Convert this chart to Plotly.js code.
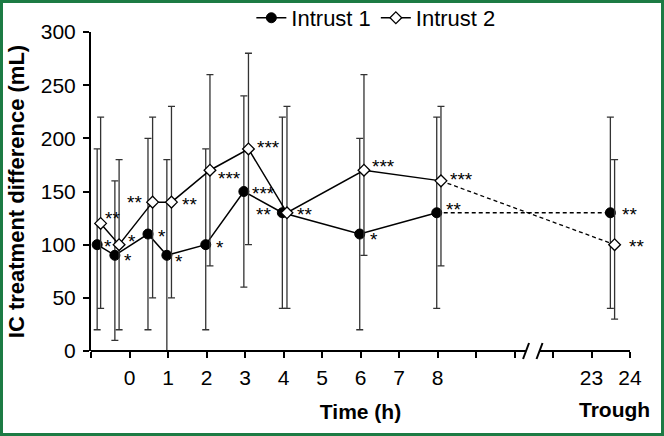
<!DOCTYPE html>
<html>
<head>
<meta charset="utf-8">
<script src="https://cdn.plot.ly/plotly-3.0.1.min.js"></script>
<style>
  body { margin: 0; background: #fff; }
  #wrap { position: relative; width: 664px; height: 436px; }
  #graph { position: absolute; left: 0; top: 0; width: 664px; height: 436px; }
  #frame { position: absolute; left: 0; top: 0; width: 664px; height: 436px;
           box-sizing: border-box; border: 3px solid #1c7b44; pointer-events: none; }
</style>
</head>
<body>
<div id="wrap">
  <div id="graph"></div>
  <div id="frame"></div>
</div>
<script>
// times in hours as placed on the chart, values in mL
var times1 = [-0.84, -0.38, 0.48, 0.97, 1.98, 2.97, 3.97, 5.98, 7.98, 23.49];
var ic1 = [100, 90, 110, 90, 100, 150, 130, 110, 130, 130];
var errUp1 = [90, 70, 90, 90, 90, 90, 90, 90, 90, 90];
var errDown1 = [80, 80, 90, 90, 80, 90, 90, 90, 90, 90];
var stars1 = ['*', '*', '*', '*', '*', '***', '**', '*', '**', '**'];

var times2 = [-0.75, -0.27, 0.6, 1.09, 2.09, 3.09, 4.09, 6.09, 8.09, 23.6];
var ic2 = [120, 100, 140, 140, 170, 190, 130, 170, 160, 100];
var errUp2 = [100, 80, 80, 90, 90, 90, 100, 90, 70, 80];
var errDown2 = [80, 80, 90, 90, 90, 90, 90, 80, 80, 70];
var stars2 = ['**', '*', '**', '**', '***', '***', '**', '***', '***', '**'];

var tickHours = [-1, 0, 1, 2, 3, 4, 5, 6, 7, 8, 9, 10, 22, 23, 24];
var tickLabels = ['', '0', '1', '2', '3', '4', '5', '6', '7', '8', '', '', '', '23', '24'];

// axis is broken between 10 h and 22 h
var breakAt = 10.5;
var breakSkip = 11;
function hourToPos(h) {
    return h <= breakAt ? h : h - breakSkip;
}

// where each star label sits relative to its marker (px): [dx, dy down]
var starOffs1 = [[5, 0], [7, 3], [8, 0], [6, 4], [8, 1], [6, 0], [-9, 0], [8, 3], [7, -5], [10, 0]];
var starOffs2 = [[2, -7], [7, -5], [-9, -2], [9, 0], [6, 6], [7, -3], [8, 0], [6, -6], [7, -3], [12, 0]];
var starRaise = 2;

var fontFam = '"Liberation Sans", Arial, sans-serif';
var barStyle = {color: '#333', thickness: 1.3, width: 3.5};

function buildSeries(name, times, vals, up, down, marker) {
    var pos = times.map(hourToPos);
    var n = pos.length;
    var main = {
        x: pos.slice(0, n - 1), y: vals.slice(0, n - 1),
        type: 'scatter', mode: 'lines+markers', name: name,
        line: {color: '#000', width: 1.5},
        marker: marker,
        error_y: Object.assign({type: 'data', symmetric: false,
            array: up.slice(0, n - 1), arrayminus: down.slice(0, n - 1)}, barStyle)
    };
    var dashed = {
        x: pos.slice(n - 2), y: vals.slice(n - 2),
        type: 'scatter', mode: 'lines', showlegend: false, hoverinfo: 'skip',
        line: {color: '#000', width: 1.3, dash: '4px,3px'}
    };
    var trough = {
        x: pos.slice(n - 1), y: vals.slice(n - 1),
        type: 'scatter', mode: 'markers', showlegend: false,
        marker: marker,
        error_y: Object.assign({type: 'data', symmetric: false,
            array: up.slice(n - 1), arrayminus: down.slice(n - 1)}, barStyle)
    };
    return [dashed, main, trough];
}

function starNotes(times, vals, stars, offs) {
    return stars.map(function (s, i) {
        return {
            x: hourToPos(times[i]), y: vals[i], text: s, showarrow: false,
            xanchor: offs[i][0] < 0 ? 'right' : 'left', yanchor: 'middle',
            xshift: offs[i][0], yshift: -offs[i][1] - starRaise,
            font: {family: fontFam, size: 19, color: '#000'}
        };
    });
}

var s1 = buildSeries('Intrust 1', times1, ic1, errUp1, errDown1,
    {symbol: 'circle', size: 10, color: '#000', line: {color: '#000', width: 1}});
var s2 = buildSeries('Intrust 2', times2, ic2, errUp2, errDown2,
    {symbol: 'diamond', size: 9, color: '#fff', line: {color: '#000', width: 1.3}});

var data = [s1[0], s2[0], s1[1], s1[2], s2[1], s2[2]];

var lastPos = hourToPos(24);
var gapL = 10.3, gapR = 10.65;
var axisLine = {color: '#000', width: 2};
var shapes = [
    {type: 'line', xref: 'x', yref: 'paper', x0: -1, x1: gapL, y0: 0, y1: 0, line: axisLine},
    {type: 'line', xref: 'x', yref: 'paper', x0: gapR, x1: lastPos, y0: 0, y1: 0, line: axisLine}
];
[gapL, gapR].forEach(function (g) {
    shapes.push({type: 'line', xref: 'x', xsizemode: 'pixel', xanchor: g, x0: -3, x1: 3,
        yref: 'paper', ysizemode: 'pixel', yanchor: 0, y0: -8, y1: 8,
        line: {color: '#000', width: 2}});
});

var notes = starNotes(times1, ic1, stars1, starOffs1).concat(starNotes(times2, ic2, stars2, starOffs2));
notes.push({xref: 'paper', yref: 'paper', x: 0.972, y: -0.183, text: '<b>Trough</b>',
    showarrow: false, xanchor: 'center', yanchor: 'middle',
    font: {family: fontFam, size: 21, color: '#000'}});

var layout = {
    width: 664, height: 436,
    margin: {l: 91, r: 34, t: 32, b: 85, pad: 0, autoexpand: false},
    paper_bgcolor: '#fff', plot_bgcolor: '#fff',
    font: {family: fontFam, size: 21, color: '#000'},
    showlegend: true,
    legend: {orientation: 'h', x: 0.2975, xanchor: 'left', y: 1.044, yanchor: 'middle',
        font: {size: 22}, bgcolor: 'rgba(0,0,0,0)'},
    xaxis: {
        range: [-1, lastPos], tickvals: tickHours.map(hourToPos), ticktext: tickLabels,
        ticks: 'outside', ticklen: 6, tickwidth: 2, tickcolor: '#000',
        showline: false, showgrid: false, zeroline: false,
        tickfont: {size: 21}, ticklabelstandoff: 2,
        title: {text: '<b>Time (h)</b>', font: {size: 21}, standoff: 16}
    },
    yaxis: {
        range: [0, 300], dtick: 50,
        ticks: 'outside', ticklen: 6, tickwidth: 2, tickcolor: '#000',
        showline: true, linewidth: 2, linecolor: '#000',
        showgrid: false, zeroline: false,
        tickfont: {size: 21}, ticklabelstandoff: 3,
        title: {text: '<b>IC treatment difference (mL)</b>', font: {size: 22}, standoff: 10}
    },
    shapes: shapes,
    annotations: notes
};

Plotly.newPlot('graph', data, layout, {displayModeBar: false, staticPlot: true});
</script>
</body>
</html>
